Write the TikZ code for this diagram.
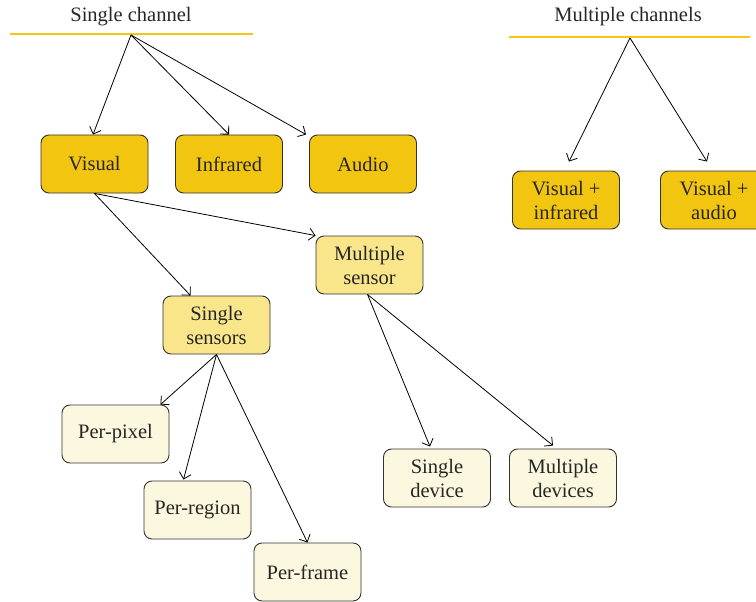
\documentclass[tikz,border=0pt]{standalone}
\usepackage{fontspec}
\setmainfont{Liberation Serif}
\usetikzlibrary{arrows.meta,calc}
\definecolor{dark}{HTML}{F2C511}
\definecolor{mid}{HTML}{FAE68A}
\definecolor{light}{HTML}{FCF8DF}
\definecolor{rule}{HTML}{F5C518}
\definecolor{edge}{HTML}{333333}
\tikzset{
  box/.style={draw=edge, line width=0.9pt, rounded corners=8pt, minimum width=107pt, minimum height=58pt,
    align=center, inner sep=0pt, font=\fontsize{20.5}{24}\selectfont, text=black!85},
  lvA/.style={box, fill=dark},
  lvB/.style={box, fill=mid},
  lvC/.style={box, fill=light},
  head/.style={font=\fontsize{20.5}{24}\selectfont, text=black!85, inner sep=0pt},
  arr/.style={-{Straight Barb[length=6pt,width=12pt]}, line width=0.8pt, black}
}
\begin{document}
\begin{tikzpicture}[x=1pt,y=-1pt]
\useasboundingbox (0,0) rectangle (756,602);
\clip (0,0) rectangle (756,602);
% headers
\node[head] (sc) at (131,17) {Single channel};
\node[head] (mc) at (628,17) {Multiple channels};
\draw[rule, line width=1.2pt] (10,34) -- (253,34);
\draw[rule, line width=1.2pt] (509,37) -- (750,37);
\coordinate (scr) at (131,35);
\coordinate (mcr) at (630,38);
% boxes
\node[lvA] (vis) at (94.5,164) {Visual};
\node[lvA] (inf) at (229,164) {Infrared};
\node[lvA] (aud) at (363,164) {Audio};
\node[lvA] (vi) at (566,200) {Visual +\\infrared};
\node[lvA] (va) at (714,200) {Visual +\\audio};
\node[lvB] (ms) at (369.5,265) {Multiple\\sensor};
\node[lvB] (ss) at (216.5,325) {Single\\sensors};
\node[lvC] (pp) at (115.5,434) {Per-pixel};
\node[lvC] (pr) at (197.5,510) {Per-region};
\node[lvC] (pf) at (307.5,572) {Per-frame};
\node[lvC] (sd) at (437,478) {Single\\device};
\node[lvC] (md) at (563,478) {Multiple\\devices};
% arrows
\draw[arr] (scr) -- ([xshift=-1.5pt]vis.north);
\draw[arr] (scr) -- (inf.north);
\draw[arr] (scr) -- ([xshift=-3pt]aud.north west);
\draw[arr] (mcr) -- ([xshift=3pt,yshift=9pt]vi.north);
\draw[arr] (mcr) -- ([xshift=-7pt,yshift=9pt]va.north);
\draw[arr] (vis.south) -- ([xshift=-26pt]ss.north);
\draw[arr] (vis.south) -- (ms.north west);
\draw[arr] (ss.south) -- ([xshift=-9pt]pp.north east);
\draw[arr] (ss.south) -- ([xshift=-14pt,yshift=1pt]pr.north);
\draw[arr] (ss.south) -- (pf.north);
\draw[arr] ([xshift=-2pt]ms.south) -- ([xshift=-7pt,yshift=2pt]sd.north);
\draw[arr] ([xshift=-2pt]ms.south) -- ([xshift=-10pt,yshift=3pt]md.north);
\end{tikzpicture}
\end{document}
